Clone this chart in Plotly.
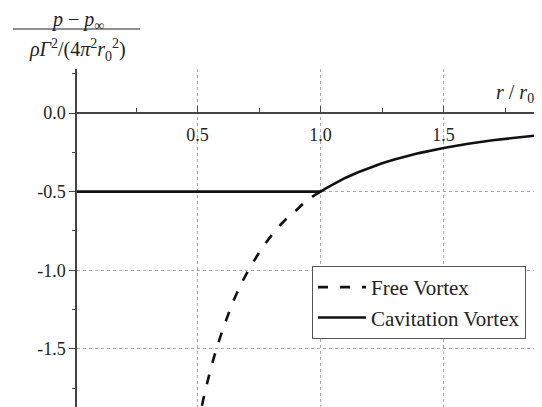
import plotly.graph_objects as go

# Free vortex
free_r = [0.50, 0.525, 0.55, 0.575, 0.60, 0.65, 0.70, 0.75, 0.80, 0.85, 0.90, 0.95, 1.00]
free_p = [-2.00, -1.81, -1.65, -1.51, -1.39, -1.18, -1.02, -0.89, -0.78, -0.69, -0.62, -0.55, -0.50]

# Cavitation vortex
cav_r = [0.01, 1.00, 1.025, 1.05, 1.075, 1.10, 1.15, 1.20, 1.25, 1.30, 1.40, 1.50, 1.60, 1.70, 1.80, 1.90]
cav_p = [-0.50, -0.50, -0.476, -0.454, -0.433, -0.413, -0.378, -0.347, -0.32, -0.296, -0.255, -0.222,
         -0.195, -0.173, -0.154, -0.139]

x_ticks = [0.5, 1.0, 1.5]
x_tick_labels = ["0.5", "1.0", "1.5"]
y_ticks = [0.0, -0.5, -1.0, -1.5]
y_tick_labels = ["0.0", "-0.5", "-1.0", "-1.5"]

X_RANGE = [0.01, 1.9]
Y_RANGE = [-1.87, 0.28]

FONT = "Liberation Serif"
TXT = "#222"

fig = go.Figure()
fig.add_trace(go.Scatter(x=free_r, y=free_p, mode="lines", name="Free Vortex",
                         line=dict(color="#111", width=2.6, dash="10px,12px", shape="spline")))
fig.add_trace(go.Scatter(x=cav_r, y=cav_p, mode="lines", name="Cavitation Vortex",
                         line=dict(color="#111", width=2.6)))

xpos = (0 - Y_RANGE[0]) / (Y_RANGE[1] - Y_RANGE[0])

# page coords -> paper coords (page has 8px body margin)
PL, PT, PW, PH = 77, 69, 465, 338
def px(x):
    return (x - PL) / PW
def py(y):
    return (PT + PH - y) / PH

fig.update_layout(
    width=534, height=399,
    margin=dict(l=69, r=0, t=61, b=0, autoexpand=False),
    paper_bgcolor="white", plot_bgcolor="white",
    font=dict(family=FONT, size=18, color=TXT),
    showlegend=True,
    legend=dict(x=px(312), y=py(266), xanchor="left", yanchor="top",
                bgcolor="white", bordercolor="#555", borderwidth=1,
                font=dict(family=FONT, size=21, color=TXT),
                tracegroupgap=0, itemwidth=48),
    xaxis=dict(range=X_RANGE, anchor="free", position=xpos,
               tickvals=x_ticks, ticktext=x_tick_labels,
               showline=True, linecolor="#444", linewidth=1.5,
               ticks="inside", ticklen=6, tickcolor="#444", ticklabelstandoff=6,
               minor=dict(dtick=0.25, tick0=0, ticks="inside", ticklen=4, tickcolor="#444", showgrid=False),
               showgrid=True, gridcolor="#aaa", griddash="dot", gridwidth=1,
               zeroline=False, tickfont=dict(family=FONT, size=18, color=TXT)),
    yaxis=dict(range=Y_RANGE, tickvals=y_ticks, ticktext=y_tick_labels,
               showline=True, linecolor="#444", linewidth=1.5,
               ticks="outside", ticklen=6, tickcolor="#444",
               minor=dict(dtick=0.25, tick0=0, ticks="outside", ticklen=3, tickcolor="#444", showgrid=False),
               showgrid=True, gridcolor="#aaa", griddash="dot", gridwidth=1,
               zeroline=False, tickfont=dict(family=FONT, size=18, color=TXT)),
)

# y-axis title as a fraction
fig.add_annotation(xref="paper", yref="paper", x=px(77), y=py(21),
                   text="<i>p</i> − <i>p</i><sub>∞</sub>", showarrow=False,
                   xanchor="center", yanchor="middle",
                   font=dict(family=FONT, size=20, color=TXT))
fig.add_shape(type="line", xref="paper", yref="paper", x0=px(13), x1=px(140), y0=py(29), y1=py(29),
              line=dict(color=TXT, width=1.2))
fig.add_annotation(xref="paper", yref="paper", x=px(77), y=py(50),
                   text="<i>ρΓ</i><sup>2</sup>/(4<i>π</i><sup>2</sup><i>r</i><sub>0</sub><sup>2</sup>)",
                   showarrow=False, xanchor="center", yanchor="middle",
                   font=dict(family=FONT, size=20, color=TXT))
fig.add_annotation(xref="paper", yref="paper", x=px(494), y=py(93),
                   text="<i>r</i> / <i>r</i><sub>0</sub>", showarrow=False,
                   xanchor="left", yanchor="middle",
                   font=dict(family=FONT, size=20, color=TXT))

fig.write_html("out.html")
